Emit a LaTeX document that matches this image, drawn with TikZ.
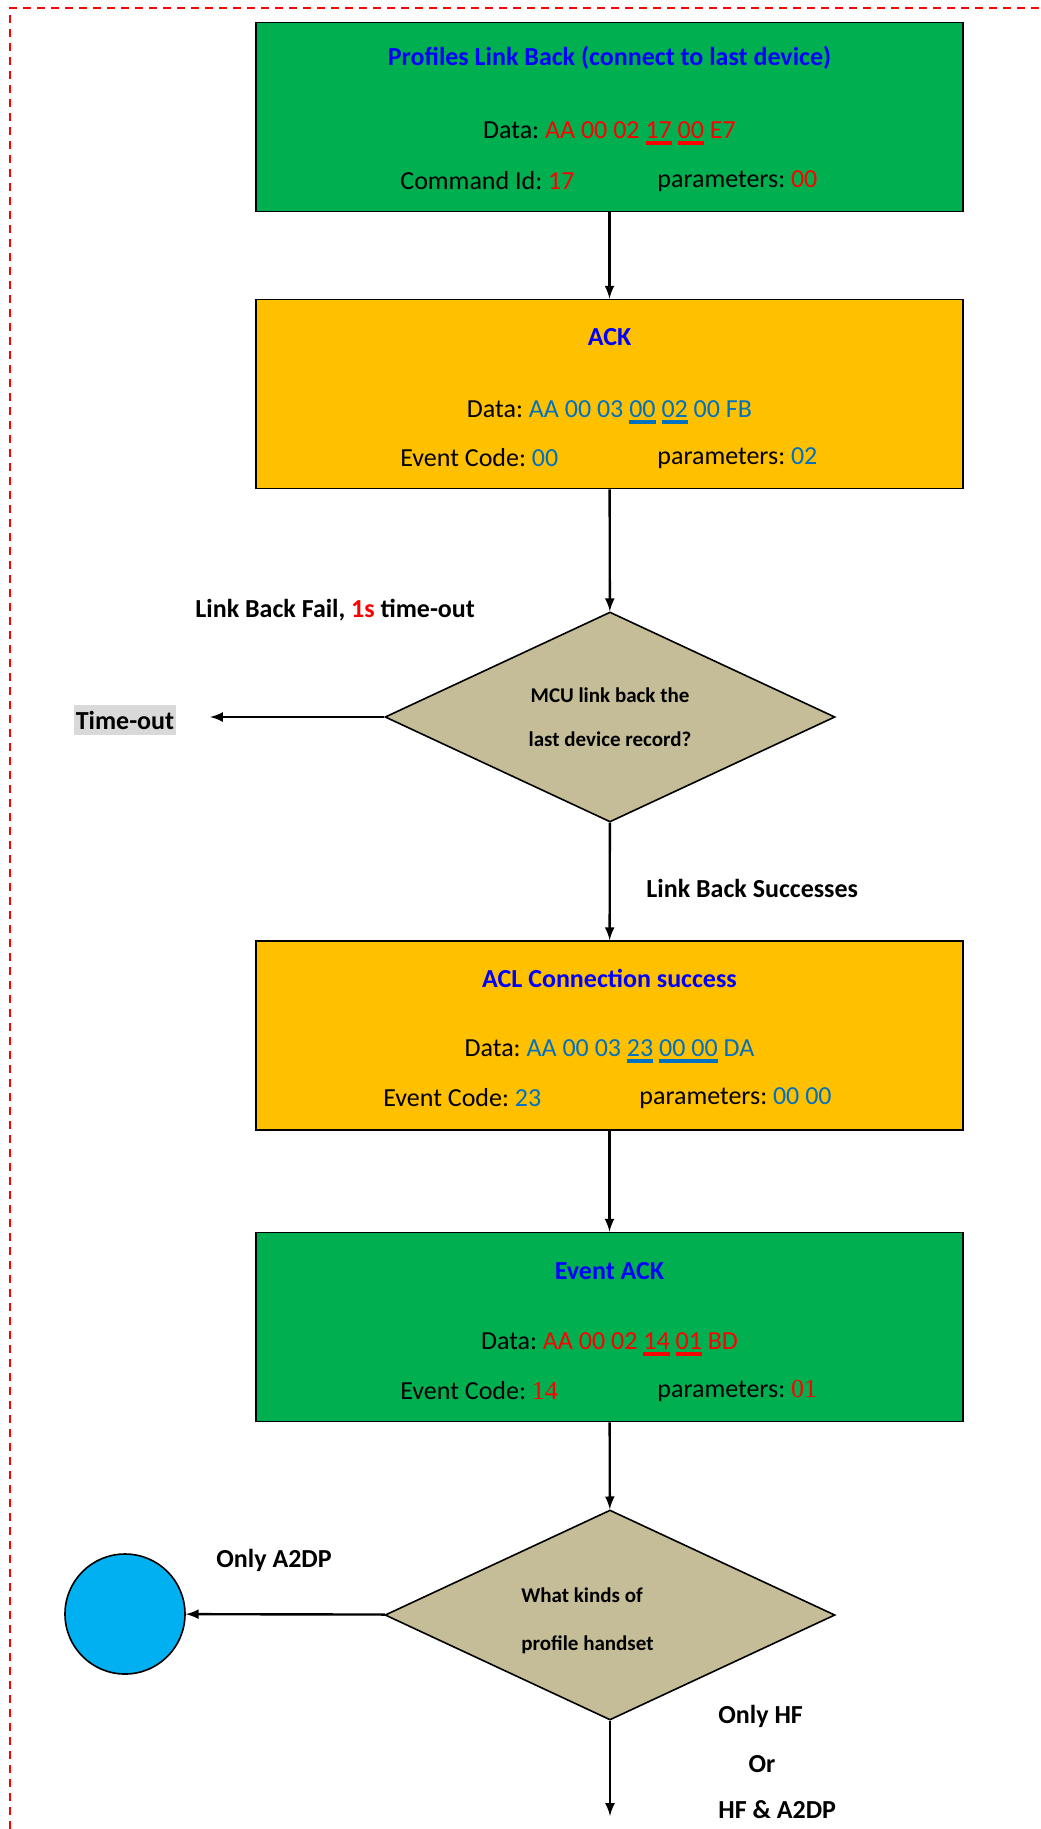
\documentclass[tikz,border=0pt]{standalone}
\usepackage{fontspec}
\setmainfont{Carlito}
\newfontfamily\tnr{Liberation Serif}
\usetikzlibrary{shapes.geometric}
\definecolor{boxgreen}{HTML}{00B050}
\definecolor{boxorange}{HTML}{FFC000}
\definecolor{dtan}{HTML}{C4BD97}
\definecolor{valblue}{HTML}{0070C0}
\definecolor{circblue}{HTML}{00B0F0}
\definecolor{greybg}{HTML}{D9D9D9}
\newsavebox\ulbox
\newcommand\ulbar[1]{\sbox\ulbox{#1}\rlap{\vrule height -1.5pt depth 3.1pt width \wd\ulbox}\usebox\ulbox}
\frenchspacing

\begin{document}
\begin{tikzpicture}[x=0.5pt, y=-0.5pt,
    box/.style={draw, line width=0.8pt, minimum width=353.5pt, minimum height=94.5pt},
    dec/.style={draw, diamond, aspect=2, fill=dtan, line width=0.8pt, minimum width=225pt, minimum height=105pt, inner sep=0pt, font=\fontsize{10.5}{22}\selectfont\bfseries, align=center},
    ttl/.style={font=\fontsize{13}{15}\selectfont\bfseries, text=blue},
    dat/.style={font=\fontsize{13}{15}\selectfont, inner sep=0pt},
    lbl/.style={font=\fontsize{13}{15}\selectfont\bfseries, inner sep=0pt}]
    \useasboundingbox (0,0) rectangle (1040,1829);
    \draw [red, line width=1pt, dash pattern=on 4pt off 3pt] (10,1829) -- (10,8) -- (1040,8);
    \draw (609.5,117)node(1)[box, fill=boxgreen]{}
    (609.5,394)node(2)[box, fill=boxorange]{}
    (610,717)node(3)[dec]{MCU link back the\\last device record?}
    (609.5,1035.5)node(4)[box, fill=boxorange]{}
    (609.5,1327)node(5)[box, fill=boxgreen]{}
    (610,1615)node(6)[dec]{}
    (125,1614)node(7)[draw, circle, fill=circblue, line width=0.8pt, minimum size=60pt]{}
    (125,720)node(8)[lbl, fill=greybg, inner xsep=1pt, inner ysep=3pt]{Time-out};
    \coordinate (9) at (210,717);
    \coordinate (10) at (610,1816);
    \node (1t)[ttl] at (609.5,58) {Profiles Link Back (connect to last device)};
    \node (1d)[dat] at (609.5,133) {Data: \textcolor{red}{AA 00 02 \ulbar{17} \ulbar{00} E7}};
    \node (1c)[dat, anchor=west] at (400,181) {Command Id: \textcolor{red}{17}};
    \node (1p)[dat, anchor=west] at (657,181) {parameters: \textcolor{red}{00}};
    \node (2t)[ttl] at (609.5,337) {ACK};
    \node (2d)[dat] at (609.5,412) {Data: \textcolor{valblue}{AA 00 03 \ulbar{00} \ulbar{02} 00 FB}};
    \node (2c)[dat, anchor=west] at (400,458) {Event Code: \textcolor{valblue}{00}};
    \node (2p)[dat, anchor=west] at (657,458) {parameters: \textcolor{valblue}{02}};
    \node (4t)[ttl] at (609.5,978) {ACL Connection success};
    \node (4d)[dat] at (609.5,1051) {Data: \textcolor{valblue}{AA 00 03 \ulbar{23} \ulbar{00 00} DA}};
    \node (4c)[dat, anchor=west] at (383,1098) {Event Code: \textcolor{valblue}{23}};
    \node (4p)[dat, anchor=west] at (639,1098) {parameters: \textcolor{valblue}{00 00}};
    \node (5t)[ttl] at (609.5,1271) {Event ACK};
    \node (5d)[dat] at (609.5,1344) {Data: \textcolor{red}{AA 00 02 \ulbar{14} \ulbar{01} BD}};
    \node (5c)[dat, anchor=west] at (400,1391) {Event Code: \textcolor{red}{\tnr 14}};
    \node (5p)[dat, anchor=west] at (657,1391) {parameters: \textcolor{red}{\tnr 01}};
    \node (6q)[font=\fontsize{10.5}{24}\selectfont\bfseries, align=left, anchor=west, inner sep=0pt] at (521,1621) {What kinds of\\profile handset};
    \node (11)[lbl, anchor=west] at (195,610) {Link Back Fail, \textcolor{red}{1s} time-out};
    \node (12)[lbl, anchor=west] at (646,888) {Link Back Successes};
    \node (13)[lbl, anchor=west] at (216,1560) {Only A2DP};
    \node (14)[lbl, anchor=west] at (718,1716) {Only HF};
    \node (15)[lbl] at (762,1764) {Or};
    \node (16)[lbl, anchor=west] at (718,1810) {HF \& A2DP};
    \draw [-latex, very thick](1)--(2);
    \draw [-latex, very thick](2)--(3);
    \draw [-latex, very thick](3)--(9);
    \draw [-latex, very thick](3)--(4);
    \draw [-latex, very thick](4)--(5);
    \draw [-latex, very thick](5)--(6);
    \draw [-latex, very thick](6)--(7);
    \draw [-latex, very thick](6)--(10);
\end{tikzpicture}
\end{document}
